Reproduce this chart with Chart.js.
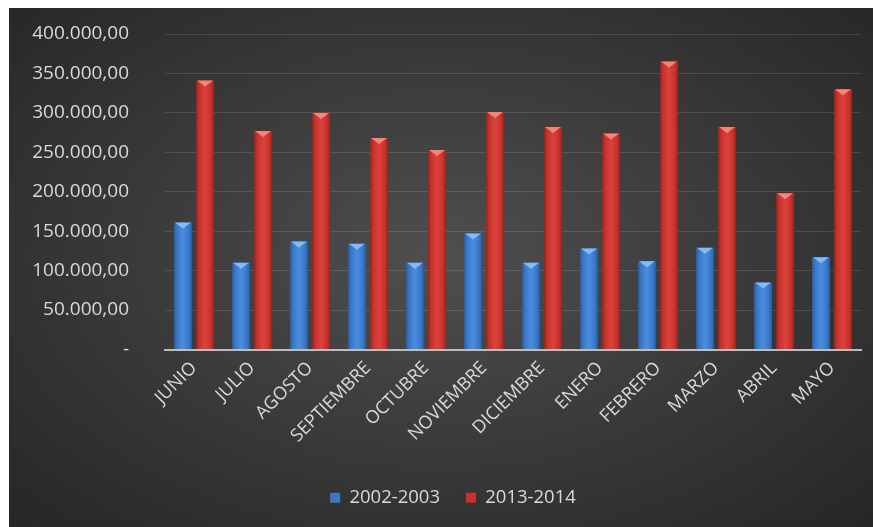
<!DOCTYPE html>
<html>
<head>
<meta charset="utf-8">
<script src="https://cdn.jsdelivr.net/npm/chart.js@4"></script>
<style>
  html, body { margin: 0; padding: 0; background: #fff; }
  #wrap {
    position: absolute; left: 9px; top: 8px; width: 864px; height: 519px;
    background: radial-gradient(ellipse at 50% 48%, #4f4f4f 0%, #3c3c3c 45%, #262626 100%);
  }
</style>
</head>
<body>
<div id="wrap"><canvas id="chart" width="864" height="519"></canvas></div>
<script>
const months = ["JUNIO", "JULIO", "AGOSTO", "SEPTIEMBRE", "OCTUBRE", "NOVIEMBRE",
                "DICIEMBRE", "ENERO", "FEBRERO", "MARZO", "ABRIL", "MAYO"];
const serie2002 = [161000, 110000, 137000, 134000, 110000, 147000, 110000, 128000, 112000, 129000, 85000, 117000];
const serie2013 = [341000, 277000, 300000, 268000, 253000, 301000, 282000, 274000, 365000, 282000, 198000, 330000];
const yTicks = [0, 50000, 100000, 150000, 200000, 250000, 300000, 350000, 400000];

const textColor = "#d9d9d9";
const fontFamily = "'Open Sans', 'Noto Sans', sans-serif";

// colores por serie: borde oscuro, centro claro, bisel superior
const shades = [
    { dark: "#2a5a9c", mid: "#4a8ee0", light: "#3a78c8", bevel: "#8cc6ff" },
    { dark: "#97231f", mid: "#dc433c", light: "#c6332e", bevel: "#ff8f85" }
];

function fmt(v) {
    if (v === 0) return "-";
    return v.toLocaleString("de-DE", { minimumFractionDigits: 2, maximumFractionDigits: 2 });
}

// sombreado tipo cilindro y bisel triangular arriba de cada barra
const barShade = {
    id: "barShade",
    afterLayout(chart) {
        // la leyenda del original queda algo a la derecha del centro
        chart.legend.left += 18;
        chart.legend.right += 18;
    },
    beforeDatasetsDraw(chart) {
        const c = chart.ctx;
        chart.data.datasets.forEach((ds, i) => {
            const s = shades[i];
            chart.getDatasetMeta(i).data.forEach(el => {
                const l = el.x - el.width / 2, r = el.x + el.width / 2;
                const g = c.createLinearGradient(l, 0, r, 0);
                g.addColorStop(0, s.dark);
                g.addColorStop(0.18, s.light);
                g.addColorStop(0.5, s.mid);
                g.addColorStop(0.82, s.light);
                g.addColorStop(1, s.dark);
                el.options = Object.assign({}, el.options, { backgroundColor: g });
            });
        });
    },
    afterDatasetsDraw(chart) {
        const c = chart.ctx;
        chart.data.datasets.forEach((ds, i) => {
            const s = shades[i];
            chart.getDatasetMeta(i).data.forEach(el => {
                const l = el.x - el.width / 2, r = el.x + el.width / 2;
                c.save();
                c.fillStyle = s.bevel;
                c.globalAlpha = 0.85;
                c.beginPath();
                c.moveTo(l + 1, el.y);
                c.lineTo(r - 1, el.y);
                c.lineTo(el.x, el.y + 6);
                c.closePath();
                c.fill();
                c.restore();
            });
        });
    }
};

new Chart(document.getElementById("chart"), {
    type: "bar",
    data: {
        labels: months,
        datasets: [
            { label: "2002-2003", data: serie2002, backgroundColor: "#3a78c8" },
            { label: "2013-2014", data: serie2013, backgroundColor: "#c6332e" }
        ]
    },
    options: {
        responsive: false,
        animation: false,
        layout: { padding: { top: 26, right: 12, left: 0, bottom: 10 } },
        datasets: {
            bar: { barPercentage: 0.82, categoryPercentage: 0.76 }
        },
        scales: {
            x: {
                grid: { display: false, drawTicks: false },
                border: { color: "#bdbdbd", width: 2 },
                afterFit(scale) { scale.height = 113; },
                ticks: {
                    color: textColor,
                    font: { family: fontFamily, size: 18 },
                    minRotation: 45, maxRotation: 45,
                    padding: 8
                }
            },
            y: {
                min: 0, max: 400000,
                afterBuildTicks(axis) { axis.ticks = yTicks.map(v => ({ value: v })); },
                afterFit(scale) { scale.width = 156; },
                grid: { color: "rgba(255,255,255,0.12)", drawTicks: true, tickLength: 32, tickColor: "rgba(0,0,0,0)" },
                border: { display: false },
                ticks: {
                    color: textColor,
                    font: { family: fontFamily, size: 19 },
                    padding: 4,
                    callback: v => fmt(v)
                }
            }
        },
        plugins: {
            legend: {
                position: "bottom",
                labels: {
                    color: textColor,
                    font: { family: fontFamily, size: 18.5 },
                    boxWidth: 10, boxHeight: 10,
                    padding: 26
                }
            },
            tooltip: { enabled: false }
        }
    },
    plugins: [barShade]
});
</script>
</body>
</html>
